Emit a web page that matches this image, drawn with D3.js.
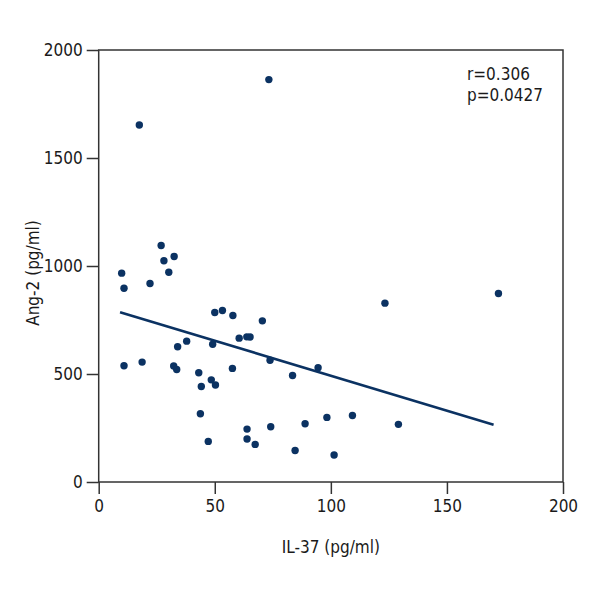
<!DOCTYPE html>
<html>
<head>
<meta charset="utf-8">
<script src="https://cdn.jsdelivr.net/npm/d3@7"></script>
<style>
  body { margin: 0; background: #fff; }
  text { font-family: "Liberation Sans Narrow", "DejaVu Sans", sans-serif; font-stretch: condensed; fill: #1a1a1a; }
</style>
</head>
<body>
<div class="main"></div>
<script>

// IL-37 (x) and Ang-2 (y)
const il37 = [73.3, 17.5, 26.9, 28.1, 32.5, 30.2, 9.9, 22.1, 10.9, 50.0,
              53.3, 57.8, 70.5, 60.5, 63.8, 65.2, 37.9, 34.0, 49.1, 73.8,
              94.5, 83.5, 10.9, 18.7, 32.3, 33.6, 57.6, 43.1, 48.5, 44.2,
              50.3, 43.8, 98.3, 88.9, 74.1, 63.9, 63.9, 67.4, 47.2, 84.6,
              101.4, 123.3, 172.2, 109.3, 129.1]
const ang2 = [1863, 1653, 1095, 1024, 1044, 971, 967, 919, 897, 785,
              794, 771, 746, 666, 672, 671, 652, 626, 638, 564,
              529, 493, 538, 555, 537, 521, 526, 506, 473, 442,
              449, 316, 299, 270, 256, 245, 199, 174, 188, 146,
              125, 828, 873, 308, 267]

// fitted line ends
const fitX = [9.2, 170.1]
const fitY = [786, 265]

const xTicks = [0, 50, 100, 150, 200]
const yTicks = [0, 500, 1000, 1500, 2000]
const stats = ["r=0.306", "p=0.0427"]

const chart = () => {

    // CANVAS
    const w = 600
    const h = 600
    const padding = { top: 50, right: 37, bottom: 118, left: 98.7 }
    const navy = "#0b3262"
    const axisColor = "#333"
    const fontSize = 17

    const svg = d3.select(".main")
        .append("svg")
        .attr("width", w)
        .attr("height", h)

    // SCALES
    const xScale = d3.scaleLinear()
        .domain([0, 200])
        .range([padding.left, w - padding.right])

    const yScale = d3.scaleLinear()
        .domain([0, 2000])
        .range([h - padding.bottom, padding.top])

    // AXES
    const xAxis = d3.axisBottom(xScale).tickValues(xTicks).tickFormat(d3.format("d")).tickSize(12).tickPadding(6)
    const yAxis = d3.axisLeft(yScale).tickValues(yTicks).tickFormat(d3.format("d")).tickSize(12).tickPadding(4)

    const gx = svg.append("g")
        .attr("transform", `translate(0, ${h - padding.bottom})`)
        .call(xAxis)

    const gy = svg.append("g")
        .attr("transform", `translate(${padding.left}, 0)`)
        .call(yAxis)

    ;[gx, gy].forEach(g => {
        g.attr("font-family", null)
        g.select(".domain").remove()
        g.selectAll("line").attr("stroke", axisColor).attr("stroke-width", 1.5)
        g.selectAll("text").attr("font-size", fontSize).attr("fill", "#1a1a1a")
    })

    // frame
    svg.append("rect")
        .attr("x", xScale(0))
        .attr("y", yScale(2000))
        .attr("width", xScale(200) - xScale(0))
        .attr("height", yScale(0) - yScale(2000))
        .attr("fill", "none")
        .attr("stroke", axisColor)
        .attr("stroke-width", 1.5)

    // FIT LINE
    svg.append("line")
        .attr("x1", xScale(fitX[0]))
        .attr("y1", yScale(fitY[0]))
        .attr("x2", xScale(fitX[1]))
        .attr("y2", yScale(fitY[1]))
        .attr("stroke", navy)
        .attr("stroke-width", 2.5)

    // DOTS
    svg.selectAll("circle")
        .data(il37.map((x, i) => [x, ang2[i]]))
        .enter()
        .append("circle")
        .attr("cx", d => xScale(d[0]))
        .attr("cy", d => yScale(d[1]))
        .attr("r", 3.7)
        .attr("fill", navy)

    // LABELS
    svg.append("text")
        .text("IL-37 (pg/ml)")
        .attr("x", (xScale(0) + xScale(200)) / 2)
        .attr("y", 553)
        .attr("text-anchor", "middle")
        .attr("font-size", fontSize)

    svg.append("text")
        .text("Ang-2 (pg/ml)")
        .attr("transform", `translate(39, 273) rotate(-90)`)
        .attr("text-anchor", "middle")
        .attr("font-size", fontSize)

    svg.selectAll(".stat")
        .data(stats)
        .enter()
        .append("text")
        .attr("class", "stat")
        .text(d => d)
        .attr("x", 467)
        .attr("y", (d, i) => 80 + i * 21)
        .attr("font-size", fontSize)
}

chart()
</script>
</body>
</html>
